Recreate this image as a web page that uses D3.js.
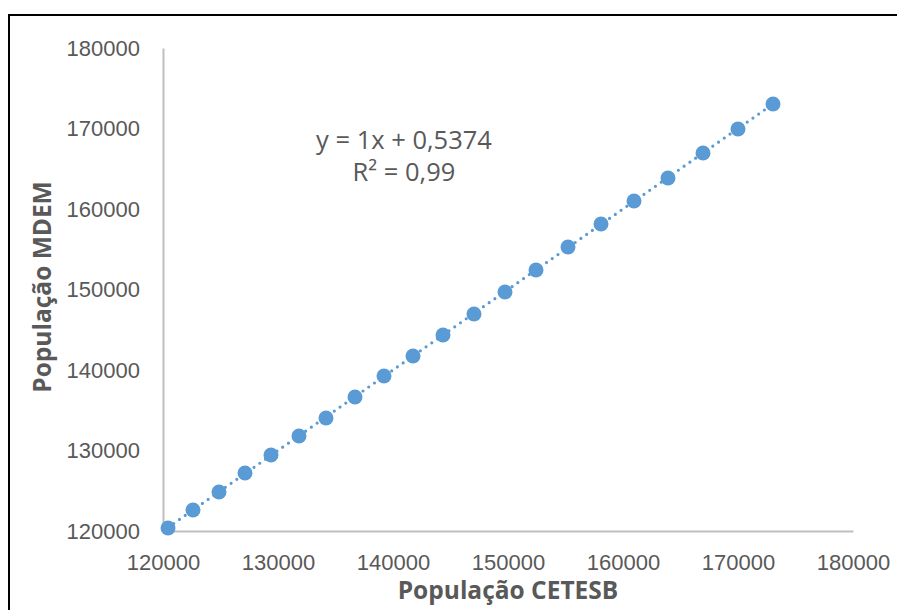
<!DOCTYPE html>
<html>
<head>
<meta charset="utf-8">
<script src="https://cdn.jsdelivr.net/npm/d3@7"></script>
<style>
  html, body { margin: 0; padding: 0; background: #fff; }
  svg { display: block; font-family: "Open Sans", sans-serif; }
  .tick-lab { fill: #595959; font-size: 22px; }
  .ax-title { fill: #595959; font-size: 24.5px; font-weight: 700; }
  .eq { fill: #595959; font-size: 25.5px; }
</style>
</head>
<body>
<div id="chart"></div>
<script>
// População CETESB (x) vs População MDEM (y)
const popCetesb = [120435, 122609, 124870, 127130, 129391, 131826, 134174, 136696, 139217, 141739,
  144348, 147043, 149739, 152435, 155217, 158087, 160957, 163913, 166957, 170000, 173043];
const popMdem = [120373, 122609, 124845, 127205, 129441, 131801, 134037, 136646, 139255, 141739,
  144348, 146957, 149689, 152422, 155280, 158137, 160994, 163851, 166957, 169938, 173043];
const axisTicks = [120000, 130000, 140000, 150000, 160000, 170000, 180000];
const trend = { slope: 1, intercept: 0.5374, r2: 0.99 };
const eqLines = ["y = 1x + 0,5374", "R² = 0,99"];
const xTitle = "População CETESB";
const yTitle = "População MDEM";

const W = 897, H = 610;
const M = { top: 48, right: 44, bottom: 79, left: 163 };
const BLUE = "#5B9BD5", AXIS = "#BFBFBF";

const svg = d3.select("#chart").append("svg").attr("width", W).attr("height", H);

// outer chart border
svg.append("rect").attr("x", 9).attr("y", 15).attr("width", W + 10).attr("height", H)
  .attr("fill", "none").attr("stroke", "#000").attr("stroke-width", 2);

const x = d3.scaleLinear().domain([120000, 180000]).range([M.left, W - M.right]);
const y = d3.scaleLinear().domain([120000, 180000]).range([H - M.bottom, M.top]);

// axes (no tick marks, just the lines and labels)
const ax = svg.append("g").attr("transform", `translate(0,${y(120000)})`)
  .call(d3.axisBottom(x).tickValues(axisTicks).tickSize(0).tickPadding(23).tickFormat(d3.format("d")));
const ay = svg.append("g").attr("transform", `translate(${x(120000)},0)`)
  .call(d3.axisLeft(y).tickValues(axisTicks).tickSize(0).tickPadding(23).tickFormat(d3.format("d")));
[ax, ay].forEach((a) => {
  a.select(".domain").attr("stroke", AXIS).attr("stroke-width", 2);
  a.selectAll("text").attr("class", "tick-lab").attr("font-family", null).attr("font-size", null);
});
ax.selectAll("text").attr("dy", "0.71em");

// trendline, dotted
const x0 = d3.min(popCetesb), x1 = d3.max(popCetesb);
svg.append("line")
  .attr("x1", x(x0)).attr("y1", y(trend.slope * x0 + trend.intercept))
  .attr("x2", x(x1)).attr("y2", y(trend.slope * x1 + trend.intercept))
  .attr("stroke", BLUE).attr("stroke-width", 3.2).attr("stroke-linecap", "round")
  .attr("stroke-dasharray", "0 7");

// markers
svg.selectAll(".pt").data(popCetesb.map((v, i) => [v, popMdem[i]])).join("circle")
  .attr("class", "pt").attr("cx", (d) => x(d[0])).attr("cy", (d) => y(d[1]))
  .attr("r", 7.5).attr("fill", BLUE);

// regression label
svg.append("text").attr("class", "eq").attr("text-anchor", "middle")
  .selectAll("tspan").data(eqLines).join("tspan")
  .attr("x", 404).attr("y", (d, i) => 149 + i * 32).text((d) => d);

// axis titles
svg.append("text").attr("class", "ax-title").attr("text-anchor", "middle")
  .attr("x", 508).attr("y", 599).text(xTitle);
svg.append("text").attr("class", "ax-title").attr("text-anchor", "middle")
  .attr("transform", "translate(51,287) rotate(-90)").text(yTitle);
</script>
</body>
</html>
